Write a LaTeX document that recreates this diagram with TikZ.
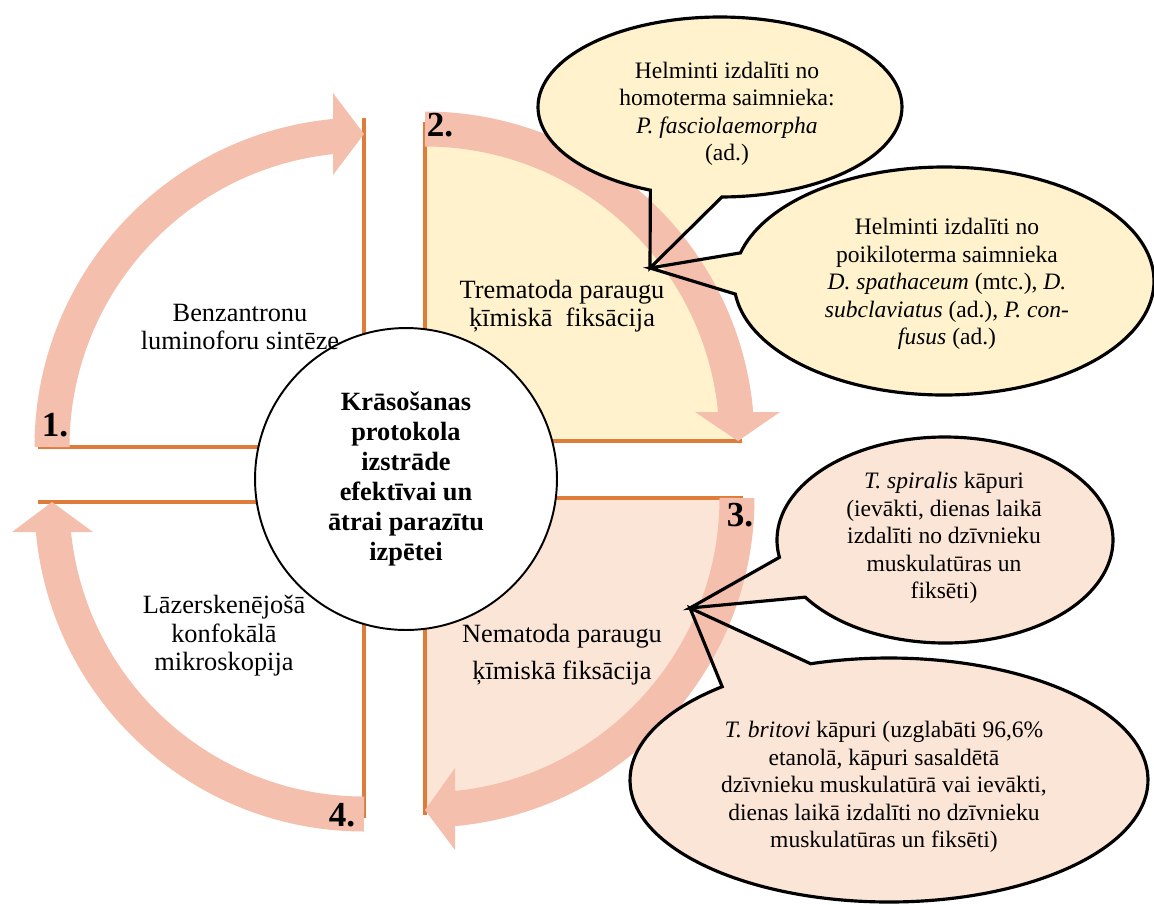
\documentclass[tikz,border=0pt]{standalone}
\usepackage{fontspec}
\setmainfont{Liberation Serif}
\definecolor{rimorange}{HTML}{E07C3A}
\definecolor{bandpink}{HTML}{F4BFAD}
\definecolor{pale}{HTML}{FFF2CC}
\definecolor{peach}{HTML}{FBE5D6}
\begin{document}
\begin{tikzpicture}[x=0.02cm,y=0.02cm,
  rim/.style={draw=rimorange,line width=2.4pt},
  band/.style={draw=bandpink,line width=0.7cm},
  head/.style={fill=bandpink},
  bubble/.style={draw=black,line width=1.8pt,line join=miter},
  hub/.style={circle,draw,line width=1.1pt,fill=white,minimum size=6.04cm,inner sep=0pt,align=center,font=\fontsize{15}{17.1}\selectfont\bfseries},
  lbl/.style={align=center,font=\fontsize{15}{16.2}\selectfont},
  note/.style={align=center,font=\fontsize{13.4}{15.6}\selectfont},
  num/.style={font=\fontsize{20}{22}\selectfont\bfseries}]
\useasboundingbox (0,0) rectangle (1154,-904);

\coordinate (c1) at (364,-447);
\coordinate (c2) at (425,-441);
\coordinate (c3) at (425,-498);
\coordinate (c4) at (364,-502);
\coordinate (tipT) at (650,-268);
\coordinate (tipN) at (690,-608);
\coordinate (bA) at (720,-107);
\coordinate (bB) at (944,-281);
\coordinate (bC) at (945,-540);
\coordinate (bD) at (889,-780);

\fill[pale] (c2) -- ++(90:312) arc[start angle=90,end angle=0,radius=312] -- cycle;
\fill[peach] (c3) -- ++(0:312) arc[start angle=0,end angle=-90,radius=312] -- cycle;

\draw[rim] (364,-118) -- (c1) -- (38,-447);
\draw[rim] (425,-122) -- (c2) -- (742,-441);
\draw[rim] (743,-498) -- (c3) -- (425,-815);
\draw[rim] (38,-502) -- (c4) -- (364,-818);

\fill[pale] (bA) ++(-89.4:182 and 90) arc[start angle=-89.4,end angle=247.5,x radius=182,y radius=90] -- (tipT) -- cycle;
\fill[pale] (bB) ++(186.6:210 and 114) arc[start angle=186.6,end angle=525.7,x radius=210,y radius=114] -- (tipT) -- cycle;
\fill[peach] (bC) ++(213.7:168 and 103) arc[start angle=213.7,end angle=549.7,x radius=168,y radius=103] -- (tipN) -- cycle;
\fill[peach] (bD) ++(130.1:259 and 122) arc[start angle=130.1,end angle=467.6,x radius=259,y radius=122] -- (tipN) -- cycle;

\draw[band] (c1) ++(180:312) arc[start angle=180,end angle=94,radius=312];
\fill[head] (333,-93) -- (364,-134) -- (333,-175) -- cycle;
\draw[band] (c2) ++(90:312) arc[start angle=90,end angle=4,radius=312];
\fill[head] (695,-412) -- (738,-441) -- (780,-412) -- cycle;
\draw[band] (c3) ++(0:312) arc[start angle=0,end angle=-86,radius=312];
\fill[head] (455,-768) -- (425,-810) -- (455,-850) -- cycle;
\draw[band] (c4) ++(-90:312) arc[start angle=-90,end angle=-176,radius=312];
\fill[head] (12,-532) -- (52,-502) -- (93,-532) -- cycle;

\fill[pale] (bA) ellipse[x radius=182,y radius=90];
\fill[peach] (bD) ellipse[x radius=259,y radius=122];

\draw[bubble] (bA) ++(-89.4:182 and 90) arc[start angle=-89.4,end angle=247.5,x radius=182,y radius=90] -- (tipT) -- cycle;
\draw[bubble] (bB) ++(186.6:210 and 114) arc[start angle=186.6,end angle=525.7,x radius=210,y radius=114] -- (tipT) -- cycle;
\draw[bubble] (bC) ++(213.7:168 and 103) arc[start angle=213.7,end angle=549.7,x radius=168,y radius=103] -- (tipN) -- cycle;
\draw[bubble] (bD) ++(130.1:259 and 122) arc[start angle=130.1,end angle=467.6,x radius=259,y radius=122] -- (tipN) -- cycle;

\node[num] (n1) at (55,-425) {1.};
\node[num] (n2) at (440,-125) {2.};
\node[num] (n3) at (740,-515) {3.};
\node[num] (n4) at (342,-815) {4.};

\node[hub] (hub) at (406,-479) {Krāsošanas\\protokola\\izstrāde\\efektīvai un\\ātrai parazītu\\izpētei};

\node[lbl] (syn) at (240,-327) {Benzantronu\\luminoforu sintēze};
\node[lbl] (trem) at (562,-306) {Trematoda paraugu\\ķīmiskā\ \ fiksācija};
\node[lbl,font=\fontsize{15}{21}\selectfont] (nem) at (562,-655) {Nematoda paraugu\\ķīmiskā fiksācija};
\node[lbl] (lsm) at (224,-636) {Lāzerskenējošā\\konfokālā\\mikroskopija};

\node[note] (tA) at (727,-114) {Helminti izdalīti no\\homoterma saimnieka:\\\textit{P. fasciolaemorpha}\\(ad.)};
\node[note] (tB) at (947,-284) {Helminti izdalīti no\\poikiloterma saimnieka\\\textit{D. spathaceum} (mtc.), \textit{D.}\\\textit{subclaviatus} (ad.), \textit{P. con-}\\\textit{fusus} (ad.)};
\node[note] (tC) at (944,-538) {\textit{T. spiralis} kāpuri\\(ievākti, dienas laikā\\izdalīti no dzīvnieku\\muskulatūras un\\fiksēti)};
\node[note] (tD) at (884,-787) {\textit{T. britovi} kāpuri (uzglabāti 96,6\%\\etanolā, kāpuri sasaldētā\\dzīvnieku muskulatūrā vai ievākti,\\dienas laikā izdalīti no dzīvnieku\\muskulatūras un fiksēti)};
\end{tikzpicture}
\end{document}
